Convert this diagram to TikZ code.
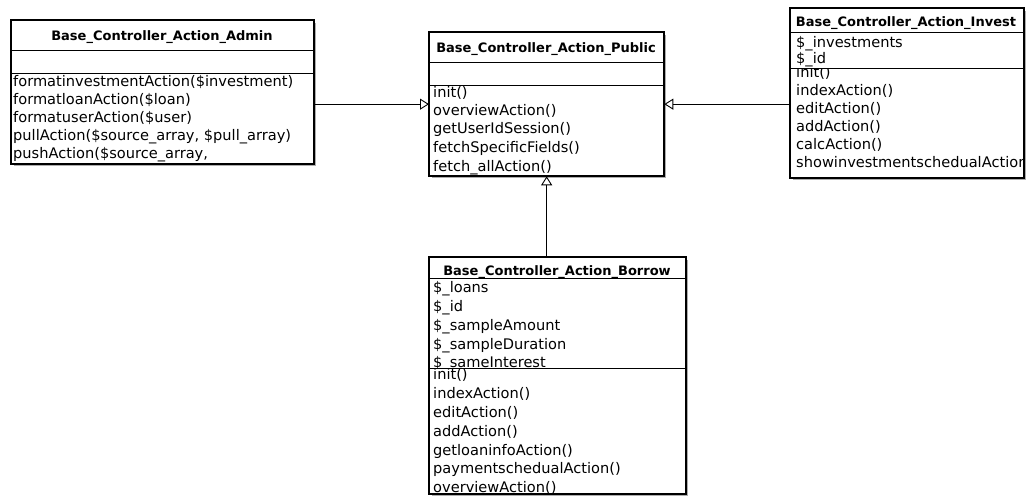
\documentclass[tikz,border=0pt]{standalone}
\usepackage{fontspec}
\setmainfont{DejaVu Sans}
\usetikzlibrary{arrows.meta,shadows}
\begin{document}
\begin{tikzpicture}[x=1pt,y=-1pt,
  umlbox/.style={draw=black, line width=1.3pt, fill=white, inner sep=0pt, anchor=north west,
    drop shadow={shadow xshift=2.5pt, shadow yshift=-2.5pt, fill=black!40, opacity=0.8}},
  divider/.style={line width=0.9pt},
  classname/.style={font=\fontsize{13}{16}\selectfont\bfseries, anchor=base, inner sep=0pt},
  member/.style={font=\fontsize{14.6}{17}\selectfont, anchor=base west, inner sep=0pt},
  inherit/.style={line width=0.9pt, -{Triangle[open, length=9pt, width=11pt, fill=white]}}
]
\useasboundingbox (0,0) rectangle (1026,496);

% class boxes
\node[umlbox, minimum width=302pt, minimum height=143pt] (admin)  at (11,20)  {};
\node[umlbox, minimum width=234pt, minimum height=143pt] (public) at (429,32) {};
\node[umlbox, minimum width=233pt, minimum height=169pt] (invest) at (790,8)  {};
\node[umlbox, minimum width=256pt, minimum height=236pt] (borrow) at (429,257) {};

% Base_Controller_Action_Admin
\node[classname] (adminname) at (162,40) {Base\_Controller\_Action\_Admin};
\begin{scope}
  \clip (admin.west |- 0,73) rectangle (admin.south east);
  \node[member] (am1) at (13,86)  {formatinvestmentAction(\$investment)};
  \node[member] (am2) at (13,104) {formatloanAction(\$loan)};
  \node[member] (am3) at (13,122) {formatuserAction(\$user)};
  \node[member] (am4) at (13,140) {pullAction(\$source\_array, \$pull\_array)};
  \node[member] (am5) at (13,158) {pushAction(\$source\_array,};
\end{scope}

% Base_Controller_Action_Public
\node[classname] (publicname) at (546,52) {Base\_Controller\_Action\_Public};
\begin{scope}
  \clip (public.west |- 0,85) rectangle (public.south east);
  \node[member] (pm1) at (433,97)  {init()};
  \node[member] (pm2) at (433,115) {overviewAction()};
  \node[member] (pm3) at (433,133) {getUserIdSession()};
  \node[member] (pm4) at (433,152) {fetchSpecificFields()};
  \node[member] (pm5) at (433,171) {fetch\_allAction()};
\end{scope}

% Base_Controller_Action_Invest
\node[classname] (investname) at (906,26) {Base\_Controller\_Action\_Invest};
\begin{scope}
  \clip (invest.west |- 0,32) rectangle (invest.east |- 0,68);
  \node[member] (ia1) at (796,47)  {\$\_investments};
  \node[member] (ia2) at (796,63)  {\$\_id};
\end{scope}
\begin{scope}
  \clip (invest.west |- 0,68) rectangle (invest.south east);
  \node[member] (im1) at (796,77)  {init()};
  \node[member] (im2) at (796,95)  {indexAction()};
  \node[member] (im3) at (796,113) {editAction()};
  \node[member] (im4) at (796,131) {addAction()};
  \node[member] (im5) at (796,149) {calcAction()};
  \node[member] (im6) at (796,167) {showinvestmentschedualAction()};
\end{scope}

% Base_Controller_Action_Borrow
\node[classname] (borrowname) at (557,275) {Base\_Controller\_Action\_Borrow};
\begin{scope}
  \clip (borrow.west |- 0,278) rectangle (borrow.east |- 0,368);
  \node[member] (ba1) at (433,292) {\$\_loans};
  \node[member] (ba2) at (433,311) {\$\_id};
  \node[member] (ba3) at (433,330) {\$\_sampleAmount};
  \node[member] (ba4) at (433,349) {\$\_sampleDuration};
  \node[member] (ba5) at (433,367) {\$\_sameInterest};
\end{scope}
\begin{scope}
  \clip (borrow.west |- 0,368) rectangle (borrow.south east);
  \node[member] (bm1) at (433,379) {init()};
  \node[member] (bm2) at (433,398) {indexAction()};
  \node[member] (bm3) at (433,417) {editAction()};
  \node[member] (bm4) at (433,436) {addAction()};
  \node[member] (bm5) at (433,455) {getloaninfoAction()};
  \node[member] (bm6) at (433,473) {paymentschedualAction()};
  \node[member] (bm7) at (433,492) {overviewAction()};
\end{scope}

% compartment separators and outlines on top of the texts
\draw[divider] (admin.west |- 0,50)  -- (admin.east |- 0,50);
\draw[divider] (admin.west |- 0,73)  -- (admin.east |- 0,73);
\draw[divider] (public.west |- 0,62) -- (public.east |- 0,62);
\draw[divider] (public.west |- 0,85) -- (public.east |- 0,85);
\draw[divider] (invest.west |- 0,32) -- (invest.east |- 0,32);
\draw[divider] (invest.west |- 0,68) -- (invest.east |- 0,68);
\draw[divider] (borrow.west |- 0,278) -- (borrow.east |- 0,278);
\draw[divider] (borrow.west |- 0,368) -- (borrow.east |- 0,368);
\foreach \b in {admin,public,invest,borrow}
  \draw[line width=1.3pt] (\b.north west) rectangle (\b.south east);

% generalisation arrows
\draw[inherit] (admin.east |- public.west) -- (public.west);
\draw[inherit] (invest.west |- public.east) -- (public.east);
\draw[inherit] (public.south |- borrow.north) -- (public.south);
\end{tikzpicture}
\end{document}
